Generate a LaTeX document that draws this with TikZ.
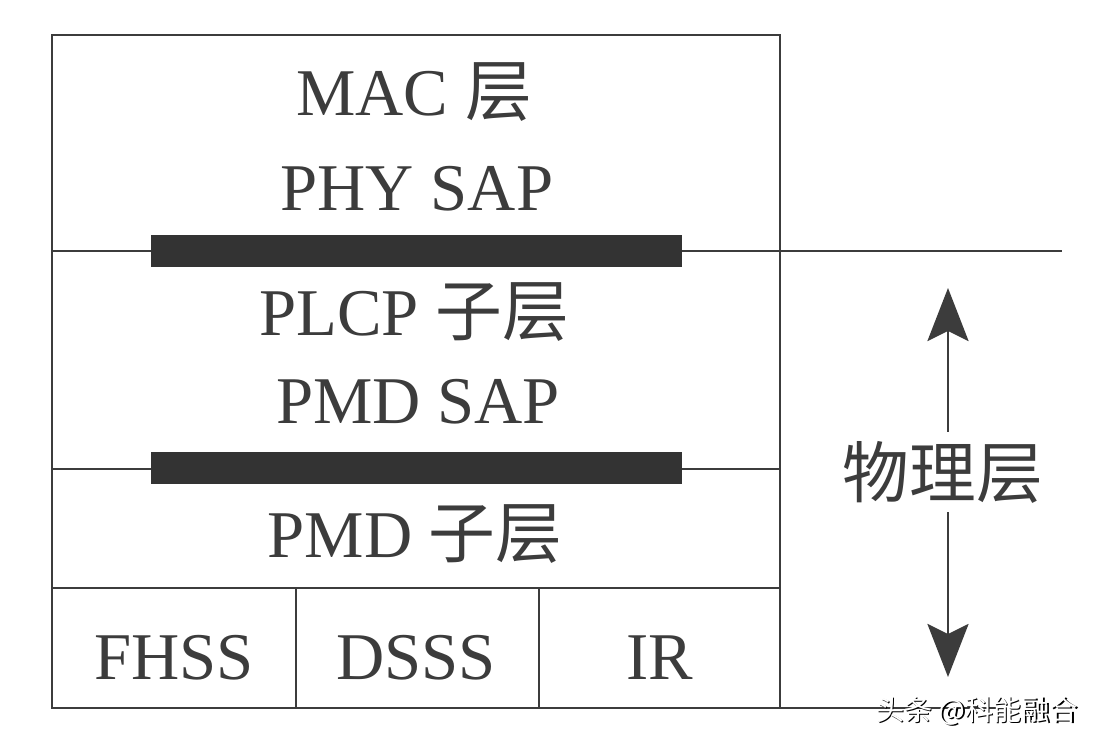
\documentclass[tikz,border=0pt]{standalone}
\usepackage{fontspec}
\setmainfont{Liberation Serif}
\newfontfamily\cjk{Noto Sans CJK SC}
\usetikzlibrary{arrows.meta,calc,positioning}
\definecolor{ink}{HTML}{3C3C3C}
\definecolor{barink}{HTML}{333333}
\tikzset{
  layer/.style={text=ink,font=\fontsize{38}{44}\selectfont,inner sep=0pt,anchor=base},
  rule/.style={draw=ink,line width=1.7pt},
  sapbar/.style={fill=barink},
  updown/.style={rule,-{Stealth[length=1.06cm,width=0.82cm,inset=0.2cm]}},
}

\begin{document}
\begin{tikzpicture}[x=0.02cm,y=-0.02cm]
        \useasboundingbox[fill=white] (0,0) rectangle (1100,744);

        % Outer stack
        \draw[rule] (52,35) coordinate (tl) rectangle (780,708) coordinate (br);
        \draw[rule] (52,251) coordinate (phyL) -- (1062,251) coordinate (phyR);
        \draw[rule] (52,469) coordinate (pmdL) -- (780,469) coordinate (pmdR);
        \draw[rule] (52,588) coordinate (rowL) -- (780,588) coordinate (rowR);
        \draw[rule] (780,708) -- (1000,708) coordinate (baseR);

        % Bottom row
        \draw[rule] (296,588) -- (296,708);
        \draw[rule] (539,588) -- (539,708);

        % SAP bars
        \fill[sapbar] (151,235) rectangle (682,267);
        \fill[sapbar] (151,452) rectangle (682,484);

        % Layer names
        \node[layer] (mac) at (414,115) {MAC {\cjk 层}};
        \node[layer] (physap) at (417,210) {PHY SAP};
        \node[layer] (plcp) at (414,335) {PLCP {\cjk 子层}};
        \node[layer] (pmdsap) at (418,423) {PMD SAP};
        \node[layer] (pmd) at (415,557) {PMD {\cjk 子层}};
        \node[layer] (fhss) at (174,679) {FHSS};
        \node[layer] (dsss) at (416,679) {DSSS};
        \node[layer] (ir) at (660,679) {IR};

        % Physical layer span
        \coordinate (phytop) at (948,288);
        \coordinate (phybot) at (948,677);
        \node[text=ink,font=\cjk\fontsize{38}{44}\selectfont,inner sep=5pt] (phy) at (943,472) {物理层};
        \draw[updown] (phy.north -| phytop) -- (phytop);
        \draw[updown] (phy.south -| phybot) -- (phybot);

        % Watermark
        \node[font=\cjk\fontsize{16}{18}\selectfont,text=black] at (978.5,712.5) {头条 @科能融合};
        \node[font=\cjk\fontsize{16}{18}\selectfont,text=white] (mark) at (977,711) {头条 @科能融合};
\end{tikzpicture}
\end{document}
